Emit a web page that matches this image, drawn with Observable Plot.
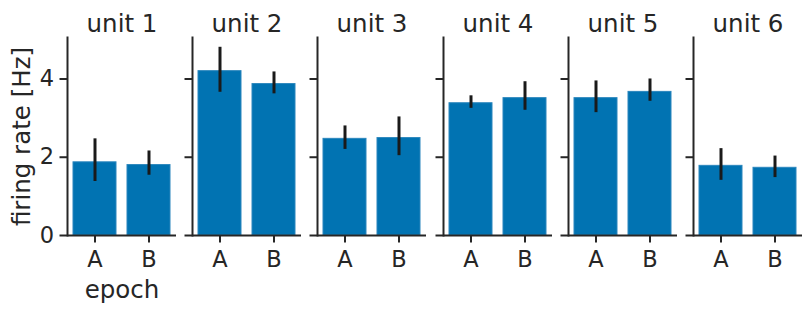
<!DOCTYPE html>
<html>
<head>
<meta charset="utf-8">
<script src="https://cdn.jsdelivr.net/npm/d3@7"></script>
<script src="https://cdn.jsdelivr.net/npm/@observablehq/plot@0.6"></script>
<style>
  html, body { margin: 0; padding: 0; background: #fff; }
  #chart { position: relative; width: 811px; height: 311px; overflow: hidden; }
  #chart > div, #chart > svg { position: absolute; top: 0; }
</style>
</head>
<body>
<div id="chart"></div>
<script>
const units = ["unit 1", "unit 2", "unit 3", "unit 4", "unit 5", "unit 6"];
const epochs = ["A", "B"];
const meanA = [1.87, 4.20, 2.47, 3.38, 3.51, 1.78];
const meanB = [1.80, 3.87, 2.49, 3.51, 3.67, 1.73];
const loA   = [1.38, 3.66, 2.20, 3.25, 3.14, 1.41];
const hiA   = [2.47, 4.81, 2.80, 3.57, 3.95, 2.22];
const loB   = [1.54, 3.62, 2.04, 3.20, 3.43, 1.48];
const hiB   = [2.16, 4.18, 3.03, 3.93, 4.00, 2.03];
const yTicks = [0, 2, 4];
const yMax = 5.06;
const yLabel = "firing rate [Hz]";
const xLabel = "epoch";

const textColor = "#262626";
const axisColor = "#262626";
const barColor = "#0173b2";
const errColor = "#1a1a1a";

const panelWidth = 109;
const panelStep = 125.2;
const firstLeft = 67;

const container = document.getElementById("chart");

units.forEach((unit, i) => {
  const rows = [
    {epoch: epochs[0], mean: meanA[i], lo: loA[i], hi: hiA[i]},
    {epoch: epochs[1], mean: meanB[i], lo: loB[i], hi: hiB[i]}
  ];
  const first = i === 0;
  const ml = first ? firstLeft : 12;
  const mr = 2;
  const frameLeft = firstLeft + panelStep * i;
  const marks = [
    Plot.barY(rows, {x: "epoch", y: "mean", fill: barColor, stroke: "#2b86bd", strokeWidth: 1}),
    Plot.ruleX(rows, {x: "epoch", y1: "lo", y2: "hi", stroke: errColor, strokeWidth: 3}),
    Plot.ruleY([0], {stroke: axisColor, strokeWidth: 2}),
    Plot.frame({anchor: "left", stroke: axisColor, strokeWidth: 2}),
    Plot.axisX({tickSize: 7.5, tickPadding: 8, label: null, stroke: axisColor, strokeWidth: 2, fill: textColor, fontSize: 22.5}),
    Plot.axisY({ticks: yTicks, tickSize: 7.5, tickPadding: 6, label: null, stroke: axisColor, strokeWidth: 2, fill: textColor, fontSize: 22.5,
      tickFormat: first ? (d => String(d)) : (() => "")}),
    Plot.text([unit], {text: d => d, frameAnchor: "top", lineAnchor: "top", dy: -23, fontSize: 24.5, fill: textColor})
  ];
  if (first) {
    marks.push(Plot.text([yLabel], {text: d => d, frameAnchor: "left", rotate: -90, textAnchor: "middle", lineAnchor: "middle", dx: -45, fontSize: 24.5, fill: textColor}));
    marks.push(Plot.text([xLabel], {text: d => d, frameAnchor: "bottom", lineAnchor: "top", dy: 44.6, fontSize: 24.5, fill: textColor}));
  }
  const svg = Plot.plot({
    width: ml + panelWidth + mr,
    height: 311,
    marginLeft: ml,
    marginRight: mr,
    marginTop: 37,
    marginBottom: 76,
    x: {domain: epochs, paddingInner: 0.2, paddingOuter: 0.1, axis: null},
    y: {domain: [0, yMax], axis: null},
    style: {fontFamily: "DejaVu Sans", fontSize: "22.5px", color: textColor, background: "transparent", overflow: "visible"},
    marks
  });
  svg.style.position = "absolute";
  svg.style.left = (frameLeft - ml) + "px";
  svg.style.top = "0px";
  container.appendChild(svg);
});
</script>
</body>
</html>
